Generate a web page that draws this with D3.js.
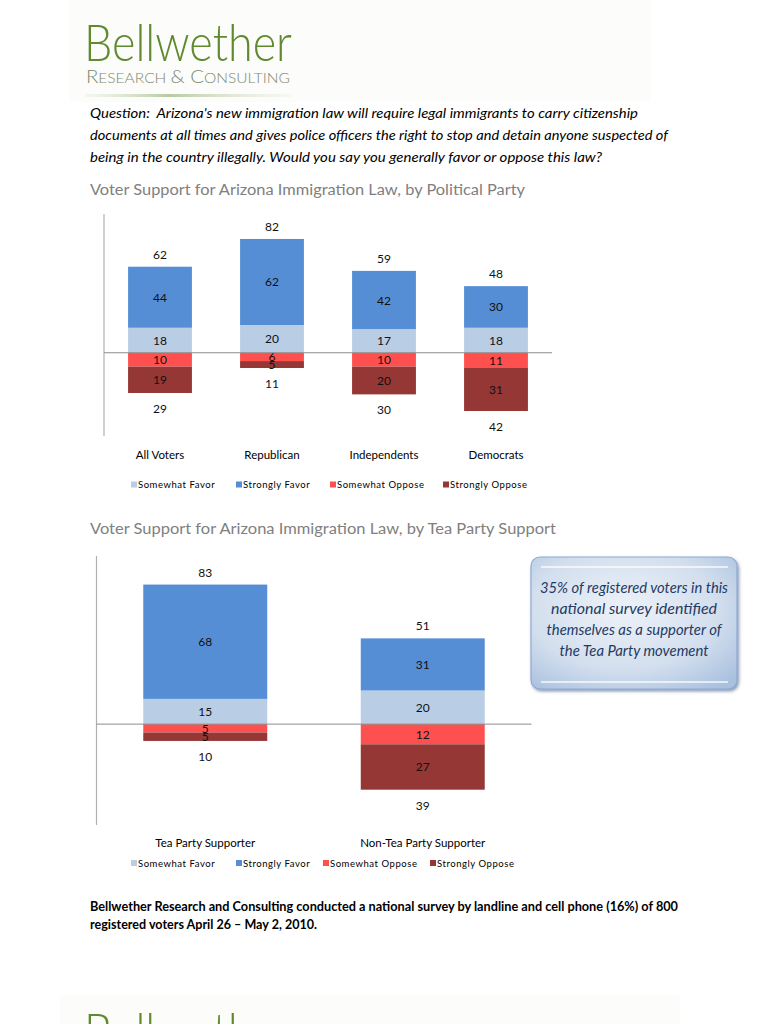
<!DOCTYPE html>
<html><head><meta charset="utf-8">
<script src="https://cdn.jsdelivr.net/npm/d3@7/dist/d3.min.js"></script>
<style>
html,body{margin:0;padding:0;background:#fff;}
svg{display:block;}
text{white-space:pre;}
</style></head>
<body>
<svg id="c" width="768" height="1024"></svg>
<script>
// ---------- DATA ----------
const seriesNames = ["Somewhat Favor","Strongly Favor","Somewhat Oppose","Strongly Oppose"];

const categories1 = ["All Voters","Republican","Independents","Democrats"];
const somewhatFavor1  = [18, 20, 17, 18];
const stronglyFavor1  = [44, 62, 42, 30];
const somewhatOppose1 = [10, 6, 10, 11];
const stronglyOppose1 = [19, 5, 20, 31];
const favorTotal1  = [62, 82, 59, 48];
const opposeTotal1 = [29, 11, 30, 42];

const categories2 = ["Tea Party Supporter","Non-Tea Party Supporter"];
const somewhatFavor2  = [15, 20];
const stronglyFavor2  = [68, 31];
const somewhatOppose2 = [5, 12];
const stronglyOppose2 = [5, 27];
const favorTotal2  = [83, 51];
const opposeTotal2 = [10, 39];

const questionLines = [
  "Question:  Arizona's new immigration law will require legal immigrants to carry citizenship",
  "documents at all times and gives police officers the right to stop and detain anyone suspected of",
  "being in the country illegally. Would you say you generally favor or oppose this law?"
];
const title1 = "Voter Support for Arizona Immigration Law, by Political Party";
const title2 = "Voter Support for Arizona Immigration Law, by Tea Party Support";
const calloutLines = ["35% of registered voters in this","national survey identified","themselves as a supporter of","the Tea Party movement"];
const footerLines = [
  "Bellwether Research and Consulting conducted a national survey by landline and cell phone (16%) of 800",
  "registered voters April 26 \u2013 May 2, 2010."
];

// ---------- STYLE ----------
const colors = {"Somewhat Favor":"#b9cde5","Strongly Favor":"#558ed5","Somewhat Oppose":"#ff5050","Strongly Oppose":"#953735"};
const FONT = "Lato, 'Open Sans', sans-serif";
const svg = d3.select("#c");
const defs = svg.append("defs");

// ---------- HEADER / LOGO ----------
svg.append("rect").attr("x",70).attr("y",0).attr("width",580).attr("height",102).attr("fill","#fcfcfb");
const lg = defs.append("linearGradient").attr("id","logoLine");
lg.append("stop").attr("offset","0%").attr("stop-color","#dfe8d3").attr("stop-opacity",0.3);
lg.append("stop").attr("offset","40%").attr("stop-color","#b9c9a3");
lg.append("stop").attr("offset","100%").attr("stop-color","#dfe8d3").attr("stop-opacity",0.2);
svg.append("rect").attr("x",85).attr("y",94).attr("width",207).attr("height",3).attr("fill","url(#logoLine)");

function fitText(sel, len){ sel.attr("textLength",len).attr("lengthAdjust","spacingAndGlyphs"); return sel; }

fitText(svg.append("text").attr("x",84).attr("y",61).attr("font-family",FONT).attr("font-weight",300)
  .attr("font-size",52).attr("fill","#5f8a2e").text("Bellwether"),208);
const rc = svg.append("text").attr("x",86).attr("y",83).attr("font-family",FONT).attr("font-weight",300)
  .attr("fill","#7d8870").attr("font-size",13);
[["R",17],["ESEARCH ",13],["& ",17],["C",17],["ONSULTING",13]].forEach(p=>rc.append("tspan").attr("font-size",p[1]).text(p[0]));
fitText(rc,204);

// bottom (next page) logo
svg.append("rect").attr("x",60).attr("y",995).attr("width",620).attr("height",29).attr("fill","#fcfcfb");
fitText(svg.append("text").attr("x",84).attr("y",1050).attr("font-family",FONT).attr("font-weight",300)
  .attr("font-size",52).attr("fill","#5f8a2e").text("Bellwether"),208);

// ---------- QUESTION ----------
const qEnds = [638, 668, 602];
questionLines.forEach((t,i)=>{
  fitText(svg.append("text").attr("x",90).attr("y",118+22*i).attr("font-family",FONT)
    .attr("font-style","italic").attr("font-size",13.5).attr("fill","#000").text(t), qEnds[i]-90);
});

// ---------- CHART FUNCTION ----------
function drawChart(cfg){
  const g = svg.append("g");
  const x = d3.scaleBand().domain(cfg.categories).range(cfg.xRange).paddingInner(0.43).paddingOuter(0.215);
  const y = d3.scaleLinear().domain([-60,100]).range(cfg.yRange);

  fitText(g.append("text").attr("x",90).attr("y",cfg.titleY).attr("font-family",FONT)
    .attr("font-size",15.5).attr("fill","#808080").text(cfg.title), cfg.titleLen);

  // vertical axis
  g.append("line").attr("x1",cfg.xRange[0]).attr("x2",cfg.xRange[0])
    .attr("y1",cfg.yRange[1]).attr("y2",cfg.yRange[0]).attr("stroke","#b0b0b0").attr("stroke-width",1.2);

  const rows = cfg.categories.map((c,i)=>({
    cat:c,
    segs:[
      {name:"Somewhat Favor", y0:0, y1:cfg.sf[i], v:cfg.sf[i]},
      {name:"Strongly Favor", y0:cfg.sf[i], y1:cfg.sf[i]+cfg.stf[i], v:cfg.stf[i]},
      {name:"Somewhat Oppose", y0:0, y1:-cfg.so[i], v:cfg.so[i]},
      {name:"Strongly Oppose", y0:-cfg.so[i], y1:-cfg.so[i]-cfg.sto[i], v:cfg.sto[i]}
    ],
    fav:cfg.ft[i], opp:cfg.ot[i]
  }));

  const bars = g.selectAll("g.bar").data(rows).join("g").attr("class","bar");
  bars.selectAll("rect").data(d=>d.segs.map(s=>({...s,cat:d.cat}))).join("rect")
    .attr("x",d=>x(d.cat)).attr("width",x.bandwidth())
    .attr("y",d=>Math.min(y(d.y0),y(d.y1))).attr("height",d=>Math.abs(y(d.y0)-y(d.y1)))
    .attr("fill",d=>colors[d.name]);
  bars.selectAll("text.seg").data(d=>d.segs.map(s=>({...s,cat:d.cat}))).join("text").attr("class","seg")
    .attr("x",d=>x(d.cat)+x.bandwidth()/2).attr("y",d=>(y(d.y0)+y(d.y1))/2+4.5)
    .attr("text-anchor","middle").attr("font-family",FONT).attr("font-size",12).attr("fill","#111")
    .text(d=>d.v);
  bars.append("text").attr("x",d=>x(d.cat)+x.bandwidth()/2).attr("y",d=>y(d.fav)-8)
    .attr("text-anchor","middle").attr("font-family",FONT).attr("font-size",12).attr("fill","#111").text(d=>d.fav);
  bars.append("text").attr("x",d=>x(d.cat)+x.bandwidth()/2).attr("y",d=>y(-d.opp)+20)
    .attr("text-anchor","middle").attr("font-family",FONT).attr("font-size",12).attr("fill","#111").text(d=>d.opp);

  // zero baseline
  g.append("line").attr("x1",cfg.xRange[0]).attr("x2",cfg.xRange[1]).attr("y1",y(0)).attr("y2",y(0))
    .attr("stroke","#8c8c8c").attr("stroke-width",1);

  // category labels
  g.selectAll("text.cat").data(cfg.categories).join("text").attr("class","cat")
    .attr("x",d=>x(d)+x.bandwidth()/2).attr("y",cfg.catY).attr("text-anchor","middle")
    .attr("font-family",FONT).attr("font-size",11.5).attr("fill","#000").text(d=>d);

  // legend
  const lgd = g.selectAll("g.lg").data(seriesNames).join("g").attr("class","lg")
    .attr("transform",(d,i)=>`translate(${cfg.legendX[i]},${cfg.legendY})`);
  lgd.append("rect").attr("x",0).attr("y",-6.5).attr("width",6).attr("height",6).attr("fill",d=>colors[d]);
  lgd.append("text").attr("x",7).attr("y",0).attr("font-family",FONT).attr("font-size",9.5)
    .attr("letter-spacing",0.55).attr("fill","#000").text(d=>d);
}

drawChart({
  title:title1, titleY:195, titleLen:435,
  categories:categories1, sf:somewhatFavor1, stf:stronglyFavor1, so:somewhatOppose1, sto:stronglyOppose1,
  ft:favorTotal1, ot:opposeTotal1,
  xRange:[104,552], yRange:[436,214], catY:459, legendY:488, legendX:[131,236,330,443]
});
drawChart({
  title:title2, titleY:534, titleLen:466,
  categories:categories2, sf:somewhatFavor2, stf:stronglyFavor2, so:somewhatOppose2, sto:stronglyOppose2,
  ft:favorTotal2, ot:opposeTotal2,
  xRange:[96.5,531.5], yRange:[825,556], catY:847, legendY:866.5, legendX:[131,236,323,430]
});

// ---------- CALLOUT ----------
const f = defs.append("filter").attr("id","sh").attr("x","-10%").attr("y","-10%").attr("width","130%").attr("height","130%");
f.append("feDropShadow").attr("dx",1.5).attr("dy",2).attr("stdDeviation",1.5).attr("flood-color","#3b5b8a").attr("flood-opacity",0.6);
const rg = defs.append("radialGradient").attr("id","cg").attr("cx","45%").attr("cy","40%").attr("r","75%");
rg.append("stop").attr("offset","0%").attr("stop-color","#eef2f8");
rg.append("stop").attr("offset","60%").attr("stop-color","#d3dfee");
rg.append("stop").attr("offset","100%").attr("stop-color","#a9c0df");
svg.append("rect").attr("x",531).attr("y",557).attr("width",206).attr("height",132).attr("rx",9)
  .attr("fill","url(#cg)").attr("stroke","#8eaad2").attr("stroke-width",1.2).attr("filter","url(#sh)");
[567,682].forEach(yy=>svg.append("line").attr("x1",541).attr("x2",728).attr("y1",yy).attr("y2",yy)
  .attr("stroke","#ffffff").attr("stroke-width",1.3).attr("opacity",0.9));
const cLens = [188,166,175,149];
calloutLines.forEach((t,i)=>{
  fitText(svg.append("text").attr("x",634).attr("y",593+21*i).attr("text-anchor","middle")
    .attr("font-family",FONT).attr("font-style","italic").attr("font-size",14.5).attr("fill","#1f3b64").text(t), cLens[i]);
});

// ---------- FOOTER ----------
const fEnds = [678, 317];
footerLines.forEach((t,i)=>{
  fitText(svg.append("text").attr("x",90).attr("y",911+18*i).attr("font-family",FONT)
    .attr("font-weight",700).attr("font-size",12.5).attr("fill","#000").text(t), fEnds[i]-90);
});
</script>
</body></html>
